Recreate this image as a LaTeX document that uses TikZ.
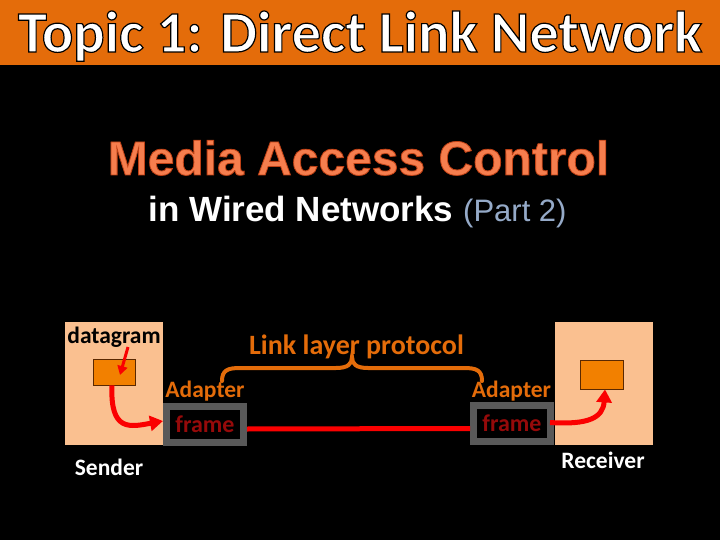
\documentclass[tikz,border=0pt]{standalone}
\usepackage{fontspec}
\setmainfont{Carlito}
\newfontfamily\arialf{Liberation Sans}
\usetikzlibrary{arrows.meta}
\definecolor{barorange}{RGB}{228,108,10}
\definecolor{macfill}{RGB}{246,126,78}
\definecolor{partblue}{RGB}{149,170,200}
\definecolor{peach}{RGB}{250,192,144}
\definecolor{boxorange}{RGB}{242,128,0}
\definecolor{adgray}{RGB}{89,89,89}
\definecolor{framered}{RGB}{150,10,10}
\definecolor{lblorange}{RGB}{228,108,10}
\definecolor{arrowred}{RGB}{250,0,0}
\newcommand\strokedtext[3]{\special{pdf:literal direct 2 Tr #2 w #1 RG}#3\special{pdf:literal direct 0 Tr}}
\tikzset{
  hostbox/.style={fill=peach, draw=none, minimum width=98pt, minimum height=123pt, inner sep=0pt},
  dgbox/.style={fill=boxorange, draw={rgb,255:red,90;green,40;blue,0}, line width=0.8pt, inner sep=0pt},
  adapterbox/.style={fill=black, draw=adgray, line width=7pt, minimum width=77pt, minimum height=36pt, inner sep=0pt,
     font=\fontsize{24}{26}\selectfont\bfseries, text=framered},
  lbl/.style={font=\fontsize{23.5}{26}\selectfont\bfseries, anchor=base, inner sep=0pt},
  redarrow/.style={draw=arrowred, line width=5pt, -{Triangle[length=13pt,width=15pt]}},
  bracestyle/.style={draw=lblorange, line width=4pt, line cap=round}
}
\begin{document}
\begin{tikzpicture}[x=1pt,y=-1pt]
\useasboundingbox (0,0) rectangle (720,540);
\fill[black] (0,0) rectangle (720,540);
\fill[barorange] (0,0) rectangle (720,65);
\node[anchor=base, inner sep=0pt, font=\fontsize{58.5}{60}\selectfont\bfseries] (title) at (360,52)
  {\color{white}\strokedtext{0 0 0}{1.2}{Topic 1: Direct Link Network}};
\node[anchor=base, inner sep=0pt, font=\arialf\fontsize{48}{52}\selectfont\bfseries] (mac) at (358.5,175)
  {\color{macfill}\strokedtext{0.75 0.25 0.08}{0.8}{Media Access Control}};
\node[anchor=base, inner sep=0pt, font=\arialf\fontsize{35}{40}\selectfont\bfseries] (sub) at (357.5,222)
  {\color{white}in Wired Networks \fontsize{31}{34}\selectfont\mdseries\color{partblue}(Part 2)};
% hosts
\node[hostbox] (sender) at (114,383.5) {};
\node[hostbox] (recv) at (604,383.5) {};
\node[dgbox, minimum width=42pt, minimum height=26pt] (dg) at (114,372) {};
\node[dgbox, minimum width=43pt, minimum height=29pt] (rg) at (601.5,374.5) {};
\node[lbl, text=black] (dgl) at (114,343) {datagram};
\node[lbl, text=white] (sendl) at (109,475) {Sender};
\node[lbl, text=white] (recvl) at (603,468) {Receiver};
% adapters
\node[adapterbox] (adL) at (205,424) {frame};
\node[adapterbox] (adR) at (512,423.5) {frame};
\node[lbl, text=lblorange] (adLl) at (205,397) {Adapter};
\node[lbl, text=lblorange] (adRl) at (511.5,397) {Adapter};
\node[lbl, text=lblorange, font=\fontsize{28}{30}\selectfont\bfseries] (llp) at (356.5,354) {Link layer protocol};
% brace
\draw[bracestyle] (222,381) .. controls (222,370) and (228,368) .. (240,368) -- (336,368)
  .. controls (348,368) and (352,364) .. (352,357) .. controls (352,364) and (356,368) .. (368,368)
  -- (464,368) .. controls (476,368) and (482,370) .. (482,381);
% link
\draw[draw=arrowred, line width=5pt] ([yshift=-5pt]adL.east) -- ([yshift=-5pt]adR.west);
% arrows
\coordinate (dgs) at (128,347);
\draw[draw=arrowred, line width=3pt, -{Triangle[length=9pt,width=10pt]}] (dgs) -- (120,375);
\draw[redarrow] ([xshift=-2pt]dg.south) .. controls (110,432) and (130,427) .. ([yshift=3pt]adL.west);
\draw[redarrow] ([xshift=-4pt,yshift=1pt]adR.east) .. controls (588,425) and (603,418) .. ([xshift=3.5pt]rg.south);
\end{tikzpicture}
\end{document}
